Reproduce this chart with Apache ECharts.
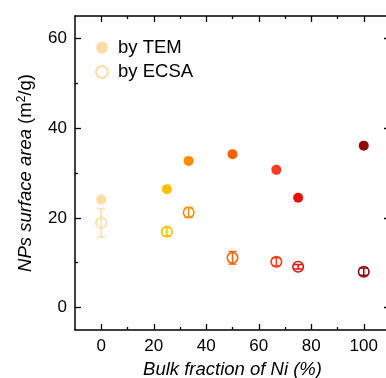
<!DOCTYPE html>
<html><head><meta charset="utf-8">
<script src="https://cdn.jsdelivr.net/npm/echarts@6/dist/echarts.min.js"></script>
<style>html,body{margin:0;padding:0;background:#fff}#c{width:386px;height:378px}</style>
</head><body><div id="c"></div>
<script>
var niFraction = [0, 25, 33.3, 50, 66.7, 75, 100];
var temArea = [24.1, 26.4, 32.7, 34.2, 30.7, 24.5, 36.1];
var ecsaArea = [18.9, 16.9, 21.2, 11.1, 10.2, 9.1, 8.0];
var ecsaErr = [3.2, 0.9, 1.1, 1.4, 0.9, 0.5, 0.8];
var pointColors = ['#FDDCA6', '#FFBF00', '#FF8C00', '#FF6000', '#FF3A20', '#E8100A', '#930A0A'];
var xMajor = [0, 20, 40, 60, 80, 100];
var xMinor = [10, 30, 50, 70, 90];
var yMajor = [0, 20, 40, 60];
var yMinor = [10, 30, 50];

var FONT = 'Liberation Sans, Arial, sans-serif';
var chart = echarts.init(document.getElementById('c'));

function xAx(pos, ticks, len, labels, line, extra) {
  var a = {
    type: 'value', position: pos, min: -10, max: 110,
    axisLine: {show: line, onZero: false, lineStyle: {color: '#000', width: 1.5}},
    axisTick: {show: true, inside: true, length: len, customValues: ticks, lineStyle: {color: '#000', width: 1.3}},
    axisLabel: {show: labels, customValues: ticks, color: '#000', fontSize: 17, fontFamily: FONT, margin: 8},
    splitLine: {show: false}
  };
  return Object.assign(a, extra || {});
}
function yAx(pos, ticks, len, labels, line, extra) {
  var a = {
    type: 'value', position: pos, min: -5, max: 65,
    axisLine: {show: line, onZero: false, lineStyle: {color: '#000', width: 1.5}},
    axisTick: {show: true, inside: true, length: len, customValues: ticks, lineStyle: {color: '#000', width: 1.3}},
    axisLabel: {show: labels, customValues: ticks, color: '#000', fontSize: 17, fontFamily: FONT, margin: 8},
    splitLine: {show: false}
  };
  return Object.assign(a, extra || {});
}

var temData = niFraction.map(function (x, i) {
  return {value: [x, temArea[i]], itemStyle: {color: pointColors[i]}};
});
var ecsaData = niFraction.map(function (x, i) {
  return {value: [x, ecsaArea[i]], itemStyle: {color: 'rgba(255,255,255,0)', borderColor: pointColors[i]}};
});
var errData = niFraction.map(function (x, i) {
  return [x, ecsaArea[i] - ecsaErr[i], ecsaArea[i] + ecsaErr[i], i];
});

chart.setOption({
  animation: false,
  grid: {left: 75, top: 16, width: 315, height: 314, containLabel: false, outerBoundsMode: 'none'},
  legend: {
    orient: 'vertical', left: 90, top: 33, itemWidth: 12, itemHeight: 12, itemGap: 5.5,
    textStyle: {fontSize: 18.5, fontFamily: FONT, color: '#000', padding: [0, 0, 0, 5]},
    data: ['by TEM', 'by ECSA']
  },
  xAxis: [
    xAx('bottom', xMajor, 6, true, true, {
      name: 'Bulk fraction of Ni (%)', nameLocation: 'middle', nameGap: 30,
      nameTextStyle: {fontSize: 18.5, fontStyle: 'italic', fontFamily: FONT, color: '#000'}
    }),
    xAx('bottom', xMinor, 3, false, false),
    xAx('top', xMajor, 6, false, true),
    xAx('top', xMinor, 3, false, false)
  ],
  yAxis: [
    yAx('left', yMajor, 6, true, true, {
      name: '{a|NPs surface area} {b|(m}{s|2}{b|/g)}', nameLocation: 'middle', nameGap: 40,
      nameTextStyle: {
        fontSize: 18.5, fontFamily: FONT, color: '#000',
        rich: {
          a: {fontSize: 18.5, fontStyle: 'italic', fontFamily: FONT, color: '#000'},
          b: {fontSize: 18.5, fontFamily: FONT, color: '#000'},
          s: {fontSize: 12, fontFamily: FONT, color: '#000', verticalAlign: 'top', padding: [0, 0, 7, 0]}
        }
      }
    }),
    yAx('left', yMinor, 3, false, false),
    yAx('right', yMajor, 6, false, false),
    yAx('right', yMinor, 3, false, false)
  ],
  series: [
    {
      name: 'by TEM', type: 'scatter', symbol: 'circle', symbolSize: 10,
      itemStyle: {color: '#FDDCA6', opacity: 1},
      data: temData, z: 3
    },
    {
      name: 'by ECSA', type: 'scatter', symbol: 'circle', symbolSize: 10.5,
      itemStyle: {color: 'rgba(255,255,255,0)', borderColor: '#FDDCA6', borderWidth: 1.6, opacity: 1},
      data: ecsaData, z: 3
    },
    {
      name: 'err', type: 'custom', z: 4,
      renderItem: function (params, api) {
        var x = api.value(0), lo = api.value(1), hi = api.value(2), idx = api.value(3);
        var p1 = api.coord([x, lo]), p2 = api.coord([x, hi]);
        var c = pointColors[idx];
        var hw = 4;
        var st = {stroke: c, lineWidth: 1.5, fill: null};
        return {
          type: 'group',
          children: [
            {type: 'line', shape: {x1: p1[0], y1: p1[1], x2: p2[0], y2: p2[1]}, style: st},
            {type: 'line', shape: {x1: p1[0] - hw, y1: p1[1], x2: p1[0] + hw, y2: p1[1]}, style: st},
            {type: 'line', shape: {x1: p2[0] - hw, y1: p2[1], x2: p2[0] + hw, y2: p2[1]}, style: st}
          ]
        };
      },
      encode: {x: 0, y: [1, 2]},
      data: errData
    }
  ]
});
</script></body></html>
